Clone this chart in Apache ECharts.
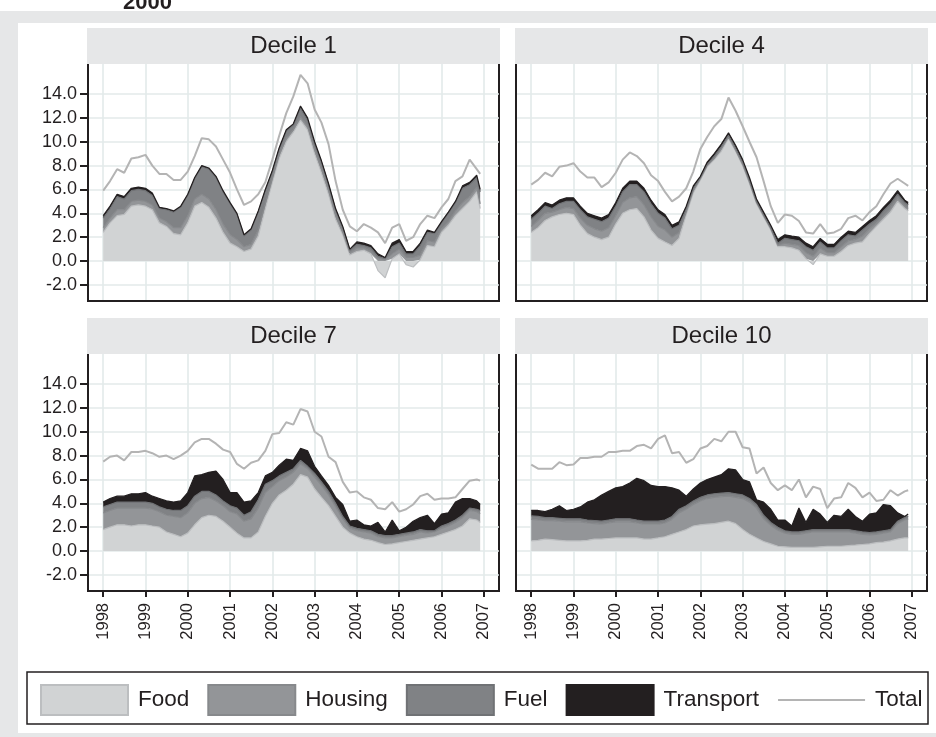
<!DOCTYPE html>
<html><head><meta charset="utf-8">
<script src="https://cdn.jsdelivr.net/npm/echarts@6/dist/echarts.min.js"></script>
<style>html,body{margin:0;padding:0;background:#fff}#c{width:936px;height:737px}</style>
</head><body><div id="c"></div>
<script>
// ---- categories: bimonthly observations Jan 1998 .. Nov 2006, plus Dec 2006 ----
const monthIdx = [];
for (let m = 0; m <= 106; m += 2) monthIdx.push(m);
monthIdx.push(107);
const dates = monthIdx.map(m => Date.UTC(1998 + Math.floor(m / 12), m % 12, 1));
const yearTicks = [1998, 1999, 2000, 2001, 2002, 2003, 2004, 2005, 2006, 2007];
const valueTicks = [-2, 0, 2, 4, 6, 8, 10, 12, 14];
const panelTitles = ['Decile 1', 'Decile 4', 'Decile 7', 'Decile 10'];
const layerNames = ['Food', 'Housing', 'Fuel', 'Transport'];

// ---- Decile 1 ----
const d1Food = [2.4,3.2,3.8,3.9,4.6,4.7, 4.6,4.3,3.2,2.9,2.3,2.2, 3.2,4.6,4.9,4.5,3.6,2.4, 1.5,1.2,0.8,1.0,2.1,4.4, 6.6,8.6,10.0,10.8,11.8,11.0, 9.0,7.4,5.6,3.5,2.2,0.5, 0.8,0.9,0.6,-0.8,-1.4,0.2, 0.6,-0.3,-0.5,0.1,1.3,1.2, 2.4,3.0,3.8,4.4,5.0,5.8,4.4];
const d1Housing = [0.4,0.4,0.5,0.4,0.4,0.4, 0.4,0.4,0.4,0.4,0.5,0.6, 0.6,0.6,0.7,0.7,0.7,0.7, 0.7,0.6,0.4,0.4,0.5,0.4, 0.3,0.3,0.3,0.2,0.3,0.3, 0.3,0.3,0.3,0.3,0.2,0.2, 0.3,0.2,0.2,0.2,0.1,0.4, 0.4,0.3,0.3,0.4,0.4,0.4, 0.3,0.3,0.4,0.5,0.4,0.4,0.4];
const d1Fuel = [0.8,0.8,1.1,0.9,0.9,0.9, 0.9,0.8,0.8,1.0,1.3,1.7, 1.7,1.7,2.3,2.5,2.7,2.7, 2.6,2.1,0.9,1.2,1.5,1.1, 0.6,0.5,0.6,0.4,0.7,0.5, 0.5,0.6,0.5,0.5,0.4,0.2, 0.3,0.2,0.3,0.2,0.1,0.6, 0.5,0.3,0.3,0.8,0.7,0.7, 0.5,0.7,0.7,1.2,1.0,0.8,1.0];
const d1Transport = [0.2,0.2,0.2,0.2,0.2,0.2, 0.2,0.2,0.1,0.1,0.1,0.1, 0.1,0.1,0.1,0.1,0.1,0.1, 0.1,0.1,0.1,0.1,0.1,0.1, 0.1,0.1,0.1,0.1,0.2,0.2, 0.2,0.1,0.1,0.1,0.1,0.1, 0.2,0.2,0.2,0.2,0.1,0.3, 0.3,0.2,0.2,0.2,0.2,0.1, 0.1,0.1,0.1,0.2,0.2,0.2,0.2];
const d1Total = [5.9,6.7,7.7,7.4,8.6,8.7, 8.9,8.0,7.3,7.3,6.8,6.8, 7.5,8.8,10.3,10.2,9.6,8.5, 7.4,6.0,4.7,5.0,5.6,6.6, 8.5,10.5,12.4,13.8,15.6,14.9, 12.7,11.6,9.8,6.7,4.3,2.9, 2.5,3.1,2.8,2.4,1.5,2.8, 3.1,1.7,2.0,3.1,3.8,3.6, 4.5,5.2,6.7,7.1,8.5,7.7,7.3];

// ---- Decile 4 ----
const d4Food = [2.4,2.8,3.4,3.7,3.9,4.0, 3.9,3.0,2.3,2.0,1.8,2.0, 3.1,4.0,4.3,4.4,3.7,2.6, 1.9,1.6,1.3,1.9,3.9,5.7, 6.8,7.9,8.5,9.2,10.3,9.2, 8.0,6.5,4.8,3.7,2.6,1.2, 1.2,1.1,0.9,0.2,-0.3,0.6, 0.4,0.4,0.8,1.3,1.5,1.6, 2.3,2.9,3.5,4.1,5.0,4.4,4.2];
const d4Housing = [0.5,0.6,0.6,0.4,0.4,0.5, 0.5,0.6,0.7,0.7,0.7,0.8, 0.7,0.9,1.0,1.0,1.0,1.1, 1.0,1.0,0.7,0.5,0.2,0.2, 0.1,0.1,0.1,0.2,0.1,0.1, 0.1,0.1,0.1,0.1,0.1,0.1, 0.3,0.3,0.4,0.5,0.4,0.5, 0.3,0.3,0.4,0.4,0.3,0.5, 0.4,0.3,0.3,0.3,0.3,0.2,0.2];
const d4Fuel = [0.6,0.6,0.6,0.3,0.5,0.5, 0.6,0.7,0.7,0.8,0.8,0.8, 0.8,0.9,1.1,1.0,1.1,1.1, 1.1,1.0,0.7,0.6,0.3,0.2, 0.1,0.1,0.2,0.2,0.15,0.2, 0.2,0.2,0.1,0.1,0.1,0.2, 0.4,0.4,0.4,0.5,0.5,0.5, 0.4,0.4,0.5,0.5,0.3,0.5, 0.4,0.3,0.4,0.4,0.3,0.3,0.3];
const d4Transport = [0.3,0.3,0.3,0.3,0.3,0.3, 0.3,0.3,0.3,0.3,0.3,0.3, 0.3,0.3,0.3,0.3,0.3,0.3, 0.3,0.3,0.3,0.3,0.2,0.2, 0.1,0.2,0.2,0.2,0.2,0.2, 0.2,0.2,0.2,0.2,0.2,0.3, 0.3,0.3,0.3,0.3,0.3,0.3, 0.3,0.3,0.3,0.3,0.3,0.3, 0.3,0.3,0.3,0.3,0.3,0.2,0.2];
const d4Total = [6.4,6.8,7.4,7.1,7.9,8.0, 8.2,7.5,7.0,7.0,6.2,6.6, 7.4,8.5,9.1,8.8,8.2,7.2, 6.7,5.8,5.0,5.4,6.1,7.5, 9.4,10.4,11.3,11.9,13.7,12.6, 11.3,10.0,8.7,6.7,4.6,3.2, 3.9,3.8,3.35,2.4,2.3,3.1, 2.3,2.4,2.7,3.6,3.8,3.4, 4.1,4.6,5.6,6.5,6.9,6.5,6.3];

// ---- Decile 7 ----
const d7Food = [1.8,2.0,2.2,2.2,2.1,2.2, 2.2,2.1,2.0,1.6,1.4,1.2, 1.5,2.2,2.8,3.0,2.9,2.5, 2.0,1.5,1.1,1.1,1.6,2.9, 4.0,4.7,5.1,5.6,6.4,6.2, 5.2,4.5,3.8,2.9,2.0,1.5, 1.2,1.0,0.9,0.7,0.55,0.6, 0.7,0.8,0.9,1.0,1.1,1.2, 1.4,1.6,1.8,2.1,2.7,2.6,2.4];
const d7Housing = [1.4,1.4,1.4,1.4,1.5,1.4, 1.4,1.4,1.3,1.4,1.5,1.6, 1.7,1.8,1.6,1.5,1.3,1.3, 1.3,1.6,1.4,1.6,2.0,2.0, 1.4,1.2,1.1,1.0,0.9,0.7, 1.0,1.0,0.9,0.8,0.7,0.4, 0.5,0.6,0.6,0.5,0.55,0.5, 0.5,0.5,0.5,0.6,0.4,0.4, 0.5,0.5,0.6,0.7,0.7,0.7,0.7];
const d7Fuel = [0.5,0.5,0.5,0.5,0.5,0.5, 0.5,0.5,0.4,0.5,0.5,0.6, 0.6,0.6,0.6,0.5,0.5,0.4, 0.5,0.5,0.5,0.6,0.7,0.7, 0.5,0.4,0.4,0.3,0.3,0.2, 0.3,0.3,0.3,0.3,0.2,0.2, 0.2,0.2,0.2,0.2,0.2,0.2, 0.2,0.2,0.2,0.2,0.2,0.1, 0.2,0.2,0.2,0.2,0.2,0.2,0.3];
const d7Transport = [0.4,0.5,0.5,0.5,0.7,0.7, 0.8,0.6,0.7,0.7,0.7,0.8, 1.1,1.7,1.4,1.6,2.0,1.8, 1.1,1.3,1.1,0.9,0.6,0.7, 0.7,0.9,1.1,0.7,1.0,1.3, 0.6,0.5,0.5,0.5,1.0,0.4, 0.7,0.4,0.4,1.0,0.3,1.3, 0.3,0.5,0.9,1.0,1.3,0.6, 1.0,0.9,1.5,1.4,0.8,0.7,0.5];
const d7Total = [7.5,7.9,8.0,7.6,8.3,8.3, 8.4,8.2,7.9,8.0,7.7,8.0, 8.4,9.1,9.4,9.4,9.0,8.5, 8.3,7.3,6.9,7.4,7.6,8.4, 9.8,9.9,10.8,10.6,11.9,11.7, 10.0,9.6,7.9,7.45,5.8,4.9, 5.0,4.5,4.3,3.6,3.5,4.1, 3.3,3.5,3.9,4.6,4.8,4.3, 4.4,4.4,4.5,5.2,5.9,6.0,5.9];

// ---- Decile 10 ----
const d10Food = [0.85,0.9,1.0,0.95,0.9,0.85, 0.85,0.85,0.9,1.0,1.0,1.05, 1.1,1.1,1.1,1.1,1.0,1.0, 1.1,1.2,1.4,1.6,1.8,2.1, 2.2,2.25,2.3,2.4,2.5,2.3, 1.8,1.4,1.1,0.8,0.6,0.4, 0.35,0.3,0.3,0.3,0.3,0.35, 0.4,0.4,0.4,0.45,0.5,0.55, 0.6,0.7,0.75,0.85,1.0,1.1,1.1];
const d10Housing = [1.8,1.7,1.55,1.6,1.6,1.6, 1.6,1.6,1.45,1.3,1.25,1.3, 1.35,1.35,1.35,1.25,1.25,1.25, 1.15,1.15,1.25,1.6,1.7,1.8, 2.0,2.15,2.2,2.15,2.1,2.2, 2.6,2.7,2.5,1.9,1.55,1.35, 1.15,1.1,1.1,1.2,1.3,1.25, 1.2,1.2,1.2,1.15,1.0,0.85, 0.75,0.7,0.75,0.75,1.3,1.5,1.6];
const d10Fuel = [0.3,0.3,0.25,0.25,0.25,0.25, 0.25,0.25,0.25,0.25,0.25,0.25, 0.25,0.25,0.25,0.25,0.25,0.25, 0.25,0.25,0.25,0.3,0.3,0.3, 0.3,0.3,0.3,0.3,0.3,0.3, 0.3,0.3,0.3,0.3,0.25,0.25, 0.2,0.2,0.2,0.2,0.2,0.2, 0.2,0.2,0.2,0.2,0.2,0.2, 0.2,0.2,0.2,0.2,0.2,0.2,0.25];
const d10Transport = [0.45,0.5,0.5,0.7,1.05,0.7, 0.8,1.0,1.5,1.75,2.2,2.4, 2.6,2.7,3.0,3.5,3.4,3.0, 2.9,2.8,2.4,1.6,0.8,1.0, 1.2,1.3,1.4,1.55,2.0,2.0, 1.3,1.4,0.4,1.1,1.1,0.6, 0.9,0.5,2.0,0.7,1.7,1.3, 0.6,1.2,1.1,1.7,1.2,0.9, 1.55,1.6,2.2,2.0,0.7,0.1,0.15];
const d10Total = [7.25,6.9,6.9,6.9,7.45,7.2, 7.25,7.8,7.8,7.9,7.9,8.3, 8.3,8.4,8.4,8.8,8.9,8.6, 9.4,9.7,8.2,8.3,7.4,7.7, 8.6,8.8,9.4,9.2,10.0,10.0, 8.7,8.6,6.5,7.0,5.7,5.1, 5.5,5.1,6.0,4.5,5.4,5.2, 3.6,4.4,4.5,5.7,5.3,4.5, 4.9,4.2,4.3,5.1,4.65,5.0,5.1];

const panelLayers = [
  [d1Food, d1Housing, d1Fuel, d1Transport],
  [d4Food, d4Housing, d4Fuel, d4Transport],
  [d7Food, d7Housing, d7Fuel, d7Transport],
  [d10Food, d10Housing, d10Fuel, d10Transport]
];
const panelTotals = [d1Total, d4Total, d7Total, d10Total];

// ---- styling ----
const FONT = "'Liberation Sans', Arial, Helvetica, sans-serif";
const INK = '#231f20';
const GRIDC = '#e3eaea';
const STRIP = '#e6e7e8';
const layerFill = ['#d1d3d4', '#939598', '#808285', '#231f20'];
const layerLine = ['#bcbec0', '#87898c', '#707275', '#231f20'];
const totalColor = '#b4b4b4';
const PAD_YR = 0.36;
const YEAR_MS = 365.25 * 86400000;
const tMin = Date.UTC(1998, 0, 1) - PAD_YR * YEAR_MS;
const tMax = Date.UTC(2007, 0, 1) + PAD_YR * YEAR_MS;

const PW = 411, PH = 238;
const layout = [
  {left: 88, top: 63, showX: false, showY: true},
  {left: 516, top: 63, showX: false, showY: false},
  {left: 88, top: 353, showX: true, showY: true},
  {left: 516, top: 353, showX: true, showY: false}
];

const grids = [], xAxes = [], yAxes = [], series = [], graphics = [];

graphics.push({type: 'rect', z: -2, silent: true, shape: {x: 0, y: 11, width: 936, height: 726}, style: {fill: STRIP}});
graphics.push({type: 'rect', z: -1, silent: true, shape: {x: 18, y: 23, width: 918, height: 710}, style: {fill: '#ffffff'}});
graphics.push({type: 'text', z: 60, silent: true, style: {text: '2000', x: 123, y: 3, textVerticalAlign: 'middle', font: 'bold 22px ' + FONT, fill: INK}});

layout.forEach((p, k) => {
  grids.push({left: p.left, top: p.top, width: PW, height: PH, show: true, borderColor: INK, borderWidth: 2, backgroundColor: 'rgba(0,0,0,0)'});
  // visible year axis (decimal years)
  xAxes.push({
    gridIndex: k, type: 'value', position: 'bottom', min: 1998 - PAD_YR, max: 2007 + PAD_YR,
    axisLine: {show: true, onZero: false, lineStyle: {color: INK, width: 2}},
    axisTick: {show: p.showX, length: 6, customValues: yearTicks, lineStyle: {color: INK, width: 2}},
    axisLabel: {show: p.showX, customValues: yearTicks, rotate: 90, margin: 12, fontSize: 16.5, color: INK, fontFamily: FONT, formatter: v => String(v)},
    splitLine: {show: true, lineStyle: {color: GRIDC, width: 1.6}}
  });
  // hidden time axis carrying the series (same span)
  xAxes.push({
    gridIndex: k, type: 'time', position: 'top', show: false, min: tMin, max: tMax,
    axisLine: {show: false}, axisTick: {show: false}, axisLabel: {show: false}, splitLine: {show: false}
  });
  yAxes.push({
    gridIndex: k, type: 'value', min: -3.35, max: 16.6,
    axisLine: {show: true, onZero: false, lineStyle: {color: INK, width: 2}},
    axisTick: {show: p.showY, length: 8, customValues: valueTicks, lineStyle: {color: INK, width: 2}},
    axisLabel: {show: p.showY, customValues: valueTicks, margin: 11, fontSize: 18, color: INK, fontFamily: FONT, formatter: v => v.toFixed(1)},
    splitLine: {show: true, lineStyle: {color: GRIDC, width: 1.6}}
  });
  const xi = 2 * k + 1;
  panelLayers[k].forEach((arr, j) => {
    series.push({
      type: 'line', name: layerNames[j], xAxisIndex: xi, yAxisIndex: k, stack: 'stk' + k,
      data: dates.map((x, i) => [x, arr[i]]),
      symbol: 'none', showSymbol: false, smooth: false,
      lineStyle: {color: layerLine[j], width: 1.2},
      areaStyle: {color: layerFill[j], opacity: 1},
      itemStyle: {color: layerFill[j]},
      emphasis: {disabled: true}, z: 2
    });
  });
  series.push({
    type: 'line', name: 'Total', xAxisIndex: xi, yAxisIndex: k,
    data: dates.map((x, i) => [x, panelTotals[k][i]]),
    symbol: 'none', showSymbol: false,
    lineStyle: {color: totalColor, width: 2},
    itemStyle: {color: totalColor},
    emphasis: {disabled: true}, z: 3
  });
  graphics.push({type: 'rect', z: 50, silent: true, shape: {x: p.left - 1, y: p.top - 35, width: PW + 2, height: 36}, style: {fill: STRIP}});
  graphics.push({type: 'text', z: 51, silent: true, style: {text: panelTitles[k], x: p.left + PW / 2, y: p.top - 17, textAlign: 'center', textVerticalAlign: 'middle', font: '24px ' + FONT, fill: INK}});
});

// legend frame
graphics.push({type: 'rect', z: 50, silent: true, shape: {x: 27, y: 672, width: 901, height: 52}, style: {fill: 'none', stroke: INK, lineWidth: 1.5}});

const legendData = layerNames.map((n, j) => ({name: n, icon: 'rect', itemStyle: {color: layerFill[j], borderColor: layerLine[j], borderWidth: 2}}));
legendData.push({name: 'Total', itemStyle: {color: 'rgba(0,0,0,0)', borderWidth: 0}, lineStyle: {color: totalColor, width: 2}});

const chart = echarts.init(document.getElementById('c'), null, {renderer: 'canvas'});
chart.setOption({
  animation: false,
  backgroundColor: '#ffffff',
  grid: grids, xAxis: xAxes, yAxis: yAxes,
  legend: {
    left: 40, top: 684, padding: 0, itemWidth: 87, itemHeight: 30, itemGap: 18,
    selectedMode: false,
    textStyle: {fontSize: 22.5, color: INK, fontFamily: FONT, padding: [0, 0, 0, 5]},
    data: legendData
  },
  graphic: graphics,
  series: series
});
</script></body></html>
